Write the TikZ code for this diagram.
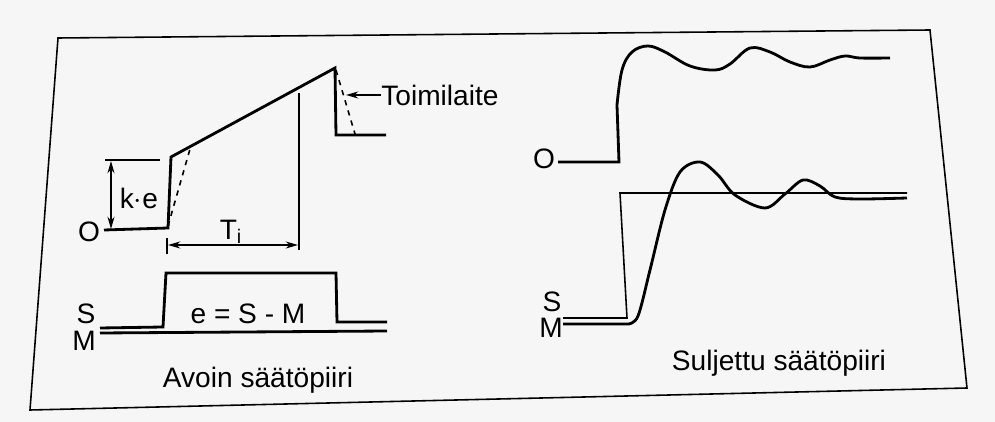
\documentclass[tikz,border=0pt]{standalone}
\usepackage{fontspec}
\setmainfont{Liberation Sans}
\usetikzlibrary{arrows.meta}
\begin{document}
\begin{tikzpicture}[x=0.02cm,y=-0.02cm,
  thk/.style={line width=1.6pt,line join=miter},
  thn/.style={line width=0.9pt},
  lbl/.style={font=\fontsize{16}{18}\selectfont,inner sep=0pt},
  dim/.style={thn,{Stealth[length=7pt,width=4pt]}-{Stealth[length=7pt,width=4pt]}}]
\fill[white!93!gray] (0,0) rectangle (995,422);
\useasboundingbox (0,0) rectangle (995,422);
\draw[thn] (58,38) -- (930,30) -- (967,388) -- (30,410) -- cycle;
% left: open loop
\node[lbl] (O1) at (89,232) {O};
\draw[thk] (104,230) -- (168,228) -- (171,157) -- (335,68) -- (336,135) -- (386,135);
\draw[thn,dashed] (168,226) -- (190,149);
\draw[thn,dashed] (336,70) -- (355,134);
\draw[thn] (105,160) -- (160,160);
\draw[dim] (111,161) -- (111,229);
\node[lbl] (ke) at (139,198) {k$\cdot$e};
\draw[thn] (299,93) -- (299,250);
\draw[thn] (167,238) -- (167,254);
\draw[dim] (168,245) -- (298,245);
\node[lbl] (Ti) at (231,232) {T$_\mathrm{i}$};
\coordinate (tip) at (346,95);
\node[lbl,anchor=west] (toim) at (381,95) {Toimilaite};
\draw[thn,-{Stealth[length=7pt,width=4pt]}] (toim.west) -- (tip);
\draw[thk] (100,328) -- (163,327) -- (166,273) -- (336,273) -- (337,322) -- (387,322);
\draw[thk] (100,333) -- (387,331);
\node[lbl] (S1) at (86,314) {S};
\node[lbl] (M1) at (84,341) {M};
\node[lbl] (e) at (248,314) {e = S - M};
\node[lbl] (av) at (258,380) {Avoin säätöpiiri};
% right: closed loop
\node[lbl] (O2) at (544,159) {O};
\draw[thk] (558,162) -- (619,162) -- (617,105) plot[smooth,tension=0.6] coordinates
  {(617,105) (622,70) (632,52) (648,46) (665,52) (690,66) (715,70) (730,64) (750,48) (770,52) (790,62) (810,67) (830,60) (845,56) (860,58) (890,58)};
\draw[thn] (563,318) -- (627,318) -- (620,193) -- (907,193);
\draw[thk] (563,324) -- (628,324) plot[smooth,tension=0.55] coordinates
  {(628,324) (638,316) (650,270) (665,210) (680,172) (700,162) (718,175) (735,195) (765,208) (785,194) (803,180) (820,186) (835,197) (860,199) (907,198)};
\node[lbl] (S2) at (552,302) {S};
\node[lbl] (M2) at (551,328) {M};
\node[lbl] (su) at (779,363) {Suljettu säätöpiiri};
\end{tikzpicture}
\end{document}
